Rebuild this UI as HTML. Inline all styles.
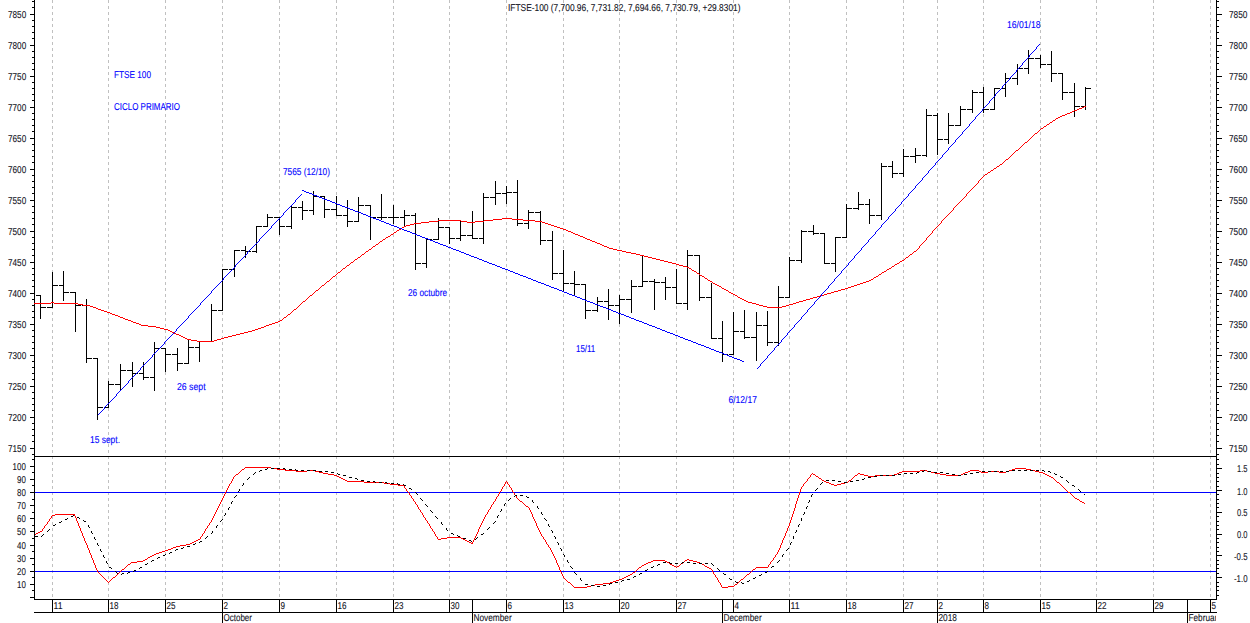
<!DOCTYPE html>
<html><head><meta charset="utf-8"><title>FTSE-100</title>
<style>
html,body{margin:0;padding:0;background:#fff;}
body{width:1250px;height:623px;overflow:hidden;}
svg{display:block;font-family:"Liberation Sans",sans-serif;text-rendering:geometricPrecision;}
</style></head><body>
<svg width="1250" height="623" viewBox="0 0 1250 623">
<rect x="0" y="0" width="1250" height="623" fill="#fff"/>
<g stroke="#c0c0c0" stroke-width="1" stroke-dasharray="3 3" shape-rendering="crispEdges">
<line x1="52.5" y1="0" x2="52.5" y2="599"/>
<line x1="108.5" y1="0" x2="108.5" y2="599"/>
<line x1="165.5" y1="0" x2="165.5" y2="599"/>
<line x1="222.5" y1="0" x2="222.5" y2="599"/>
<line x1="279.5" y1="0" x2="279.5" y2="599"/>
<line x1="336.5" y1="0" x2="336.5" y2="599"/>
<line x1="393.5" y1="0" x2="393.5" y2="599"/>
<line x1="449.5" y1="0" x2="449.5" y2="599"/>
<line x1="506.5" y1="0" x2="506.5" y2="599"/>
<line x1="563.5" y1="0" x2="563.5" y2="599"/>
<line x1="619.5" y1="0" x2="619.5" y2="599"/>
<line x1="676.5" y1="0" x2="676.5" y2="599"/>
<line x1="733.5" y1="0" x2="733.5" y2="599"/>
<line x1="789.5" y1="0" x2="789.5" y2="599"/>
<line x1="846.5" y1="0" x2="846.5" y2="599"/>
<line x1="903.5" y1="0" x2="903.5" y2="599"/>
<line x1="937.5" y1="0" x2="937.5" y2="599"/>
<line x1="983.5" y1="0" x2="983.5" y2="599"/>
<line x1="1040.5" y1="0" x2="1040.5" y2="599"/>
<line x1="1096.5" y1="0" x2="1096.5" y2="599"/>
<line x1="1153.5" y1="0" x2="1153.5" y2="599"/>
<line x1="1210.5" y1="0" x2="1210.5" y2="599"/>
</g>
<g shape-rendering="crispEdges">
<rect x="34" y="0" width="1" height="600" fill="#000"/>
<rect x="1216" y="0" width="1" height="600" fill="#000"/>
<rect x="34" y="456" width="1183" height="1" fill="#000"/>
<rect x="34" y="599" width="1183" height="1" fill="#000"/>
<rect x="34" y="612" width="1183" height="1" fill="#000"/>
<rect x="32" y="1" width="2" height="1" fill="#000"/>
<rect x="1217" y="1" width="2" height="1" fill="#000"/>
<rect x="32" y="7" width="2" height="1" fill="#000"/>
<rect x="1217" y="7" width="2" height="1" fill="#000"/>
<rect x="30" y="14" width="4" height="1" fill="#000"/>
<rect x="1217" y="14" width="5" height="1" fill="#000"/>
<rect x="32" y="20" width="2" height="1" fill="#000"/>
<rect x="1217" y="20" width="2" height="1" fill="#000"/>
<rect x="32" y="26" width="2" height="1" fill="#000"/>
<rect x="1217" y="26" width="2" height="1" fill="#000"/>
<rect x="32" y="32" width="2" height="1" fill="#000"/>
<rect x="1217" y="32" width="2" height="1" fill="#000"/>
<rect x="32" y="38" width="2" height="1" fill="#000"/>
<rect x="1217" y="38" width="2" height="1" fill="#000"/>
<rect x="30" y="45" width="4" height="1" fill="#000"/>
<rect x="1217" y="45" width="5" height="1" fill="#000"/>
<rect x="32" y="51" width="2" height="1" fill="#000"/>
<rect x="1217" y="51" width="2" height="1" fill="#000"/>
<rect x="32" y="57" width="2" height="1" fill="#000"/>
<rect x="1217" y="57" width="2" height="1" fill="#000"/>
<rect x="32" y="63" width="2" height="1" fill="#000"/>
<rect x="1217" y="63" width="2" height="1" fill="#000"/>
<rect x="32" y="69" width="2" height="1" fill="#000"/>
<rect x="1217" y="69" width="2" height="1" fill="#000"/>
<rect x="30" y="76" width="4" height="1" fill="#000"/>
<rect x="1217" y="76" width="5" height="1" fill="#000"/>
<rect x="32" y="82" width="2" height="1" fill="#000"/>
<rect x="1217" y="82" width="2" height="1" fill="#000"/>
<rect x="32" y="88" width="2" height="1" fill="#000"/>
<rect x="1217" y="88" width="2" height="1" fill="#000"/>
<rect x="32" y="94" width="2" height="1" fill="#000"/>
<rect x="1217" y="94" width="2" height="1" fill="#000"/>
<rect x="32" y="100" width="2" height="1" fill="#000"/>
<rect x="1217" y="100" width="2" height="1" fill="#000"/>
<rect x="30" y="107" width="4" height="1" fill="#000"/>
<rect x="1217" y="107" width="5" height="1" fill="#000"/>
<rect x="32" y="113" width="2" height="1" fill="#000"/>
<rect x="1217" y="113" width="2" height="1" fill="#000"/>
<rect x="32" y="119" width="2" height="1" fill="#000"/>
<rect x="1217" y="119" width="2" height="1" fill="#000"/>
<rect x="32" y="125" width="2" height="1" fill="#000"/>
<rect x="1217" y="125" width="2" height="1" fill="#000"/>
<rect x="32" y="131" width="2" height="1" fill="#000"/>
<rect x="1217" y="131" width="2" height="1" fill="#000"/>
<rect x="30" y="138" width="4" height="1" fill="#000"/>
<rect x="1217" y="138" width="5" height="1" fill="#000"/>
<rect x="32" y="144" width="2" height="1" fill="#000"/>
<rect x="1217" y="144" width="2" height="1" fill="#000"/>
<rect x="32" y="150" width="2" height="1" fill="#000"/>
<rect x="1217" y="150" width="2" height="1" fill="#000"/>
<rect x="32" y="156" width="2" height="1" fill="#000"/>
<rect x="1217" y="156" width="2" height="1" fill="#000"/>
<rect x="32" y="162" width="2" height="1" fill="#000"/>
<rect x="1217" y="162" width="2" height="1" fill="#000"/>
<rect x="30" y="169" width="4" height="1" fill="#000"/>
<rect x="1217" y="169" width="5" height="1" fill="#000"/>
<rect x="32" y="175" width="2" height="1" fill="#000"/>
<rect x="1217" y="175" width="2" height="1" fill="#000"/>
<rect x="32" y="181" width="2" height="1" fill="#000"/>
<rect x="1217" y="181" width="2" height="1" fill="#000"/>
<rect x="32" y="187" width="2" height="1" fill="#000"/>
<rect x="1217" y="187" width="2" height="1" fill="#000"/>
<rect x="32" y="193" width="2" height="1" fill="#000"/>
<rect x="1217" y="193" width="2" height="1" fill="#000"/>
<rect x="30" y="200" width="4" height="1" fill="#000"/>
<rect x="1217" y="200" width="5" height="1" fill="#000"/>
<rect x="32" y="206" width="2" height="1" fill="#000"/>
<rect x="1217" y="206" width="2" height="1" fill="#000"/>
<rect x="32" y="212" width="2" height="1" fill="#000"/>
<rect x="1217" y="212" width="2" height="1" fill="#000"/>
<rect x="32" y="218" width="2" height="1" fill="#000"/>
<rect x="1217" y="218" width="2" height="1" fill="#000"/>
<rect x="32" y="224" width="2" height="1" fill="#000"/>
<rect x="1217" y="224" width="2" height="1" fill="#000"/>
<rect x="30" y="231" width="4" height="1" fill="#000"/>
<rect x="1217" y="231" width="5" height="1" fill="#000"/>
<rect x="32" y="237" width="2" height="1" fill="#000"/>
<rect x="1217" y="237" width="2" height="1" fill="#000"/>
<rect x="32" y="243" width="2" height="1" fill="#000"/>
<rect x="1217" y="243" width="2" height="1" fill="#000"/>
<rect x="32" y="249" width="2" height="1" fill="#000"/>
<rect x="1217" y="249" width="2" height="1" fill="#000"/>
<rect x="32" y="255" width="2" height="1" fill="#000"/>
<rect x="1217" y="255" width="2" height="1" fill="#000"/>
<rect x="30" y="262" width="4" height="1" fill="#000"/>
<rect x="1217" y="262" width="5" height="1" fill="#000"/>
<rect x="32" y="268" width="2" height="1" fill="#000"/>
<rect x="1217" y="268" width="2" height="1" fill="#000"/>
<rect x="32" y="274" width="2" height="1" fill="#000"/>
<rect x="1217" y="274" width="2" height="1" fill="#000"/>
<rect x="32" y="280" width="2" height="1" fill="#000"/>
<rect x="1217" y="280" width="2" height="1" fill="#000"/>
<rect x="32" y="286" width="2" height="1" fill="#000"/>
<rect x="1217" y="286" width="2" height="1" fill="#000"/>
<rect x="30" y="293" width="4" height="1" fill="#000"/>
<rect x="1217" y="293" width="5" height="1" fill="#000"/>
<rect x="32" y="299" width="2" height="1" fill="#000"/>
<rect x="1217" y="299" width="2" height="1" fill="#000"/>
<rect x="32" y="305" width="2" height="1" fill="#000"/>
<rect x="1217" y="305" width="2" height="1" fill="#000"/>
<rect x="32" y="311" width="2" height="1" fill="#000"/>
<rect x="1217" y="311" width="2" height="1" fill="#000"/>
<rect x="32" y="317" width="2" height="1" fill="#000"/>
<rect x="1217" y="317" width="2" height="1" fill="#000"/>
<rect x="30" y="324" width="4" height="1" fill="#000"/>
<rect x="1217" y="324" width="5" height="1" fill="#000"/>
<rect x="32" y="330" width="2" height="1" fill="#000"/>
<rect x="1217" y="330" width="2" height="1" fill="#000"/>
<rect x="32" y="336" width="2" height="1" fill="#000"/>
<rect x="1217" y="336" width="2" height="1" fill="#000"/>
<rect x="32" y="342" width="2" height="1" fill="#000"/>
<rect x="1217" y="342" width="2" height="1" fill="#000"/>
<rect x="32" y="348" width="2" height="1" fill="#000"/>
<rect x="1217" y="348" width="2" height="1" fill="#000"/>
<rect x="30" y="355" width="4" height="1" fill="#000"/>
<rect x="1217" y="355" width="5" height="1" fill="#000"/>
<rect x="32" y="361" width="2" height="1" fill="#000"/>
<rect x="1217" y="361" width="2" height="1" fill="#000"/>
<rect x="32" y="367" width="2" height="1" fill="#000"/>
<rect x="1217" y="367" width="2" height="1" fill="#000"/>
<rect x="32" y="373" width="2" height="1" fill="#000"/>
<rect x="1217" y="373" width="2" height="1" fill="#000"/>
<rect x="32" y="379" width="2" height="1" fill="#000"/>
<rect x="1217" y="379" width="2" height="1" fill="#000"/>
<rect x="30" y="386" width="4" height="1" fill="#000"/>
<rect x="1217" y="386" width="5" height="1" fill="#000"/>
<rect x="32" y="392" width="2" height="1" fill="#000"/>
<rect x="1217" y="392" width="2" height="1" fill="#000"/>
<rect x="32" y="398" width="2" height="1" fill="#000"/>
<rect x="1217" y="398" width="2" height="1" fill="#000"/>
<rect x="32" y="404" width="2" height="1" fill="#000"/>
<rect x="1217" y="404" width="2" height="1" fill="#000"/>
<rect x="32" y="410" width="2" height="1" fill="#000"/>
<rect x="1217" y="410" width="2" height="1" fill="#000"/>
<rect x="30" y="417" width="4" height="1" fill="#000"/>
<rect x="1217" y="417" width="5" height="1" fill="#000"/>
<rect x="32" y="423" width="2" height="1" fill="#000"/>
<rect x="1217" y="423" width="2" height="1" fill="#000"/>
<rect x="32" y="429" width="2" height="1" fill="#000"/>
<rect x="1217" y="429" width="2" height="1" fill="#000"/>
<rect x="32" y="435" width="2" height="1" fill="#000"/>
<rect x="1217" y="435" width="2" height="1" fill="#000"/>
<rect x="32" y="441" width="2" height="1" fill="#000"/>
<rect x="1217" y="441" width="2" height="1" fill="#000"/>
<rect x="30" y="448" width="4" height="1" fill="#000"/>
<rect x="1217" y="448" width="5" height="1" fill="#000"/>
<rect x="32" y="454" width="2" height="1" fill="#000"/>
<rect x="1217" y="454" width="2" height="1" fill="#000"/>
<rect x="32" y="459" width="2" height="1" fill="#000"/>
<rect x="30" y="466" width="4" height="1" fill="#000"/>
<rect x="32" y="472" width="2" height="1" fill="#000"/>
<rect x="30" y="479" width="4" height="1" fill="#000"/>
<rect x="32" y="485" width="2" height="1" fill="#000"/>
<rect x="30" y="492" width="4" height="1" fill="#000"/>
<rect x="32" y="499" width="2" height="1" fill="#000"/>
<rect x="30" y="505" width="4" height="1" fill="#000"/>
<rect x="32" y="512" width="2" height="1" fill="#000"/>
<rect x="30" y="518" width="4" height="1" fill="#000"/>
<rect x="32" y="525" width="2" height="1" fill="#000"/>
<rect x="30" y="531" width="4" height="1" fill="#000"/>
<rect x="32" y="538" width="2" height="1" fill="#000"/>
<rect x="30" y="545" width="4" height="1" fill="#000"/>
<rect x="32" y="551" width="2" height="1" fill="#000"/>
<rect x="30" y="558" width="4" height="1" fill="#000"/>
<rect x="32" y="564" width="2" height="1" fill="#000"/>
<rect x="30" y="571" width="4" height="1" fill="#000"/>
<rect x="32" y="577" width="2" height="1" fill="#000"/>
<rect x="30" y="584" width="4" height="1" fill="#000"/>
<rect x="32" y="590" width="2" height="1" fill="#000"/>
<rect x="30" y="597" width="4" height="1" fill="#000"/>
<rect x="1217" y="459" width="2" height="1" fill="#000"/>
<rect x="1217" y="464" width="2" height="1" fill="#000"/>
<rect x="1217" y="468" width="5" height="1" fill="#000"/>
<rect x="1217" y="473" width="2" height="1" fill="#000"/>
<rect x="1217" y="477" width="2" height="1" fill="#000"/>
<rect x="1217" y="481" width="2" height="1" fill="#000"/>
<rect x="1217" y="486" width="2" height="1" fill="#000"/>
<rect x="1217" y="490" width="5" height="1" fill="#000"/>
<rect x="1217" y="494" width="2" height="1" fill="#000"/>
<rect x="1217" y="499" width="2" height="1" fill="#000"/>
<rect x="1217" y="503" width="2" height="1" fill="#000"/>
<rect x="1217" y="507" width="2" height="1" fill="#000"/>
<rect x="1217" y="512" width="5" height="1" fill="#000"/>
<rect x="1217" y="516" width="2" height="1" fill="#000"/>
<rect x="1217" y="521" width="2" height="1" fill="#000"/>
<rect x="1217" y="525" width="2" height="1" fill="#000"/>
<rect x="1217" y="529" width="2" height="1" fill="#000"/>
<rect x="1217" y="534" width="5" height="1" fill="#000"/>
<rect x="1217" y="538" width="2" height="1" fill="#000"/>
<rect x="1217" y="542" width="2" height="1" fill="#000"/>
<rect x="1217" y="547" width="2" height="1" fill="#000"/>
<rect x="1217" y="551" width="2" height="1" fill="#000"/>
<rect x="1217" y="555" width="5" height="1" fill="#000"/>
<rect x="1217" y="560" width="2" height="1" fill="#000"/>
<rect x="1217" y="564" width="2" height="1" fill="#000"/>
<rect x="1217" y="568" width="2" height="1" fill="#000"/>
<rect x="1217" y="573" width="2" height="1" fill="#000"/>
<rect x="1217" y="577" width="5" height="1" fill="#000"/>
<rect x="1217" y="582" width="2" height="1" fill="#000"/>
<rect x="1217" y="586" width="2" height="1" fill="#000"/>
<rect x="1217" y="590" width="2" height="1" fill="#000"/>
<rect x="1217" y="595" width="2" height="1" fill="#000"/>
<rect x="52" y="599" width="1" height="13" fill="#000"/>
<rect x="108" y="599" width="1" height="13" fill="#000"/>
<rect x="165" y="599" width="1" height="13" fill="#000"/>
<rect x="222" y="599" width="1" height="13" fill="#000"/>
<rect x="279" y="599" width="1" height="13" fill="#000"/>
<rect x="336" y="599" width="1" height="13" fill="#000"/>
<rect x="393" y="599" width="1" height="13" fill="#000"/>
<rect x="449" y="599" width="1" height="13" fill="#000"/>
<rect x="506" y="599" width="1" height="13" fill="#000"/>
<rect x="563" y="599" width="1" height="13" fill="#000"/>
<rect x="619" y="599" width="1" height="13" fill="#000"/>
<rect x="676" y="599" width="1" height="13" fill="#000"/>
<rect x="733" y="599" width="1" height="13" fill="#000"/>
<rect x="789" y="599" width="1" height="13" fill="#000"/>
<rect x="846" y="599" width="1" height="13" fill="#000"/>
<rect x="903" y="599" width="1" height="13" fill="#000"/>
<rect x="937" y="599" width="1" height="13" fill="#000"/>
<rect x="983" y="599" width="1" height="13" fill="#000"/>
<rect x="1040" y="599" width="1" height="13" fill="#000"/>
<rect x="1096" y="599" width="1" height="13" fill="#000"/>
<rect x="1153" y="599" width="1" height="13" fill="#000"/>
<rect x="1210" y="599" width="1" height="13" fill="#000"/>
<rect x="222" y="599" width="1" height="24" fill="#000"/>
<rect x="472" y="599" width="1" height="24" fill="#000"/>
<rect x="722" y="599" width="1" height="24" fill="#000"/>
<rect x="937" y="599" width="1" height="24" fill="#000"/>
<rect x="1187" y="599" width="1" height="24" fill="#000"/>
</g>
<g shape-rendering="crispEdges">
<rect x="35" y="492" width="1181" height="1" fill="#0000ff"/>
<rect x="35" y="571" width="1181" height="1" fill="#0000ff"/>
</g>
<g shape-rendering="crispEdges" fill="#000">
<rect x="40" y="295" width="1" height="24"/>
<rect x="36" y="295" width="4" height="1"/>
<rect x="41" y="307" width="5" height="1"/>
<rect x="52" y="272" width="1" height="36"/>
<rect x="47" y="307" width="5" height="1"/>
<rect x="53" y="285" width="5" height="1"/>
<rect x="63" y="271" width="1" height="30"/>
<rect x="59" y="285" width="4" height="1"/>
<rect x="64" y="292" width="5" height="1"/>
<rect x="75" y="292" width="1" height="40"/>
<rect x="70" y="292" width="5" height="1"/>
<rect x="76" y="305" width="5" height="1"/>
<rect x="86" y="299" width="1" height="64"/>
<rect x="82" y="305" width="4" height="1"/>
<rect x="87" y="358" width="5" height="1"/>
<rect x="97" y="358" width="1" height="62"/>
<rect x="93" y="358" width="4" height="1"/>
<rect x="98" y="407" width="5" height="1"/>
<rect x="108" y="381" width="1" height="27"/>
<rect x="104" y="407" width="4" height="1"/>
<rect x="109" y="384" width="5" height="1"/>
<rect x="120" y="364" width="1" height="27"/>
<rect x="115" y="384" width="5" height="1"/>
<rect x="121" y="370" width="5" height="1"/>
<rect x="132" y="362" width="1" height="25"/>
<rect x="127" y="370" width="5" height="1"/>
<rect x="133" y="373" width="5" height="1"/>
<rect x="143" y="362" width="1" height="18"/>
<rect x="139" y="373" width="4" height="1"/>
<rect x="144" y="377" width="5" height="1"/>
<rect x="154" y="342" width="1" height="49"/>
<rect x="150" y="377" width="4" height="1"/>
<rect x="155" y="348" width="5" height="1"/>
<rect x="165" y="348" width="1" height="24"/>
<rect x="161" y="348" width="4" height="1"/>
<rect x="166" y="354" width="5" height="1"/>
<rect x="177" y="348" width="1" height="23"/>
<rect x="172" y="354" width="5" height="1"/>
<rect x="178" y="363" width="5" height="1"/>
<rect x="188" y="339" width="1" height="25"/>
<rect x="184" y="363" width="4" height="1"/>
<rect x="189" y="347" width="5" height="1"/>
<rect x="199" y="341" width="1" height="21"/>
<rect x="195" y="347" width="4" height="1"/>
<rect x="200" y="341" width="5" height="1"/>
<rect x="211" y="304" width="1" height="38"/>
<rect x="206" y="341" width="5" height="1"/>
<rect x="212" y="310" width="5" height="1"/>
<rect x="222" y="269" width="1" height="42"/>
<rect x="218" y="310" width="4" height="1"/>
<rect x="223" y="269" width="5" height="1"/>
<rect x="234" y="250" width="1" height="27"/>
<rect x="229" y="269" width="5" height="1"/>
<rect x="235" y="250" width="5" height="1"/>
<rect x="245" y="246" width="1" height="12"/>
<rect x="241" y="250" width="4" height="1"/>
<rect x="246" y="251" width="5" height="1"/>
<rect x="256" y="226" width="1" height="27"/>
<rect x="252" y="251" width="4" height="1"/>
<rect x="257" y="226" width="5" height="1"/>
<rect x="267" y="214" width="1" height="13"/>
<rect x="263" y="226" width="4" height="1"/>
<rect x="268" y="217" width="5" height="1"/>
<rect x="279" y="217" width="1" height="18"/>
<rect x="274" y="217" width="5" height="1"/>
<rect x="280" y="226" width="5" height="1"/>
<rect x="291" y="205" width="1" height="24"/>
<rect x="286" y="226" width="5" height="1"/>
<rect x="292" y="207" width="5" height="1"/>
<rect x="302" y="201" width="1" height="19"/>
<rect x="298" y="207" width="4" height="1"/>
<rect x="303" y="210" width="5" height="1"/>
<rect x="313" y="191" width="1" height="24"/>
<rect x="309" y="210" width="4" height="1"/>
<rect x="314" y="196" width="5" height="1"/>
<rect x="324" y="196" width="1" height="22"/>
<rect x="320" y="196" width="4" height="1"/>
<rect x="325" y="209" width="5" height="1"/>
<rect x="336" y="196" width="1" height="20"/>
<rect x="331" y="209" width="5" height="1"/>
<rect x="337" y="215" width="5" height="1"/>
<rect x="347" y="200" width="1" height="27"/>
<rect x="343" y="215" width="4" height="1"/>
<rect x="348" y="221" width="5" height="1"/>
<rect x="358" y="197" width="1" height="25"/>
<rect x="354" y="221" width="4" height="1"/>
<rect x="359" y="205" width="5" height="1"/>
<rect x="370" y="205" width="1" height="35"/>
<rect x="365" y="205" width="5" height="1"/>
<rect x="371" y="217" width="5" height="1"/>
<rect x="381" y="194" width="1" height="26"/>
<rect x="377" y="217" width="4" height="1"/>
<rect x="382" y="217" width="5" height="1"/>
<rect x="393" y="205" width="1" height="19"/>
<rect x="388" y="217" width="5" height="1"/>
<rect x="394" y="217" width="5" height="1"/>
<rect x="404" y="210" width="1" height="16"/>
<rect x="400" y="217" width="4" height="1"/>
<rect x="405" y="215" width="5" height="1"/>
<rect x="415" y="213" width="1" height="57"/>
<rect x="411" y="215" width="4" height="1"/>
<rect x="416" y="263" width="5" height="1"/>
<rect x="426" y="239" width="1" height="29"/>
<rect x="422" y="263" width="4" height="1"/>
<rect x="427" y="239" width="5" height="1"/>
<rect x="438" y="218" width="1" height="22"/>
<rect x="433" y="239" width="5" height="1"/>
<rect x="439" y="227" width="5" height="1"/>
<rect x="449" y="227" width="1" height="17"/>
<rect x="445" y="227" width="4" height="1"/>
<rect x="450" y="238" width="5" height="1"/>
<rect x="460" y="221" width="1" height="20"/>
<rect x="456" y="238" width="4" height="1"/>
<rect x="461" y="235" width="5" height="1"/>
<rect x="472" y="211" width="1" height="28"/>
<rect x="467" y="235" width="5" height="1"/>
<rect x="473" y="238" width="5" height="1"/>
<rect x="483" y="193" width="1" height="51"/>
<rect x="479" y="238" width="4" height="1"/>
<rect x="484" y="197" width="5" height="1"/>
<rect x="495" y="181" width="1" height="24"/>
<rect x="490" y="197" width="5" height="1"/>
<rect x="496" y="193" width="5" height="1"/>
<rect x="506" y="186" width="1" height="18"/>
<rect x="502" y="193" width="4" height="1"/>
<rect x="507" y="192" width="5" height="1"/>
<rect x="517" y="180" width="1" height="46"/>
<rect x="513" y="192" width="4" height="1"/>
<rect x="518" y="223" width="5" height="1"/>
<rect x="528" y="210" width="1" height="19"/>
<rect x="524" y="223" width="4" height="1"/>
<rect x="529" y="212" width="5" height="1"/>
<rect x="540" y="211" width="1" height="34"/>
<rect x="535" y="212" width="5" height="1"/>
<rect x="541" y="240" width="5" height="1"/>
<rect x="552" y="231" width="1" height="49"/>
<rect x="547" y="240" width="5" height="1"/>
<rect x="553" y="273" width="5" height="1"/>
<rect x="563" y="250" width="1" height="42"/>
<rect x="559" y="273" width="4" height="1"/>
<rect x="564" y="283" width="5" height="1"/>
<rect x="574" y="271" width="1" height="24"/>
<rect x="570" y="283" width="4" height="1"/>
<rect x="575" y="284" width="5" height="1"/>
<rect x="585" y="284" width="1" height="35"/>
<rect x="581" y="284" width="4" height="1"/>
<rect x="586" y="310" width="5" height="1"/>
<rect x="597" y="297" width="1" height="15"/>
<rect x="592" y="310" width="5" height="1"/>
<rect x="598" y="301" width="5" height="1"/>
<rect x="608" y="289" width="1" height="31"/>
<rect x="604" y="301" width="4" height="1"/>
<rect x="609" y="305" width="5" height="1"/>
<rect x="619" y="295" width="1" height="29"/>
<rect x="615" y="305" width="4" height="1"/>
<rect x="620" y="299" width="5" height="1"/>
<rect x="631" y="280" width="1" height="33"/>
<rect x="626" y="299" width="5" height="1"/>
<rect x="632" y="286" width="5" height="1"/>
<rect x="642" y="255" width="1" height="32"/>
<rect x="638" y="286" width="4" height="1"/>
<rect x="643" y="281" width="5" height="1"/>
<rect x="654" y="279" width="1" height="31"/>
<rect x="649" y="281" width="5" height="1"/>
<rect x="655" y="282" width="5" height="1"/>
<rect x="665" y="277" width="1" height="23"/>
<rect x="661" y="282" width="4" height="1"/>
<rect x="666" y="287" width="5" height="1"/>
<rect x="676" y="269" width="1" height="35"/>
<rect x="672" y="287" width="4" height="1"/>
<rect x="677" y="303" width="5" height="1"/>
<rect x="687" y="250" width="1" height="60"/>
<rect x="683" y="303" width="4" height="1"/>
<rect x="688" y="255" width="5" height="1"/>
<rect x="699" y="255" width="1" height="46"/>
<rect x="694" y="255" width="5" height="1"/>
<rect x="700" y="297" width="5" height="1"/>
<rect x="711" y="283" width="1" height="56"/>
<rect x="706" y="297" width="5" height="1"/>
<rect x="712" y="338" width="5" height="1"/>
<rect x="722" y="321" width="1" height="41"/>
<rect x="718" y="338" width="4" height="1"/>
<rect x="723" y="354" width="5" height="1"/>
<rect x="733" y="312" width="1" height="43"/>
<rect x="729" y="354" width="4" height="1"/>
<rect x="734" y="331" width="5" height="1"/>
<rect x="744" y="310" width="1" height="29"/>
<rect x="740" y="331" width="4" height="1"/>
<rect x="745" y="337" width="5" height="1"/>
<rect x="756" y="312" width="1" height="49"/>
<rect x="751" y="337" width="5" height="1"/>
<rect x="757" y="325" width="5" height="1"/>
<rect x="767" y="311" width="1" height="35"/>
<rect x="763" y="325" width="4" height="1"/>
<rect x="768" y="342" width="5" height="1"/>
<rect x="778" y="286" width="1" height="60"/>
<rect x="774" y="342" width="4" height="1"/>
<rect x="779" y="297" width="5" height="1"/>
<rect x="789" y="257" width="1" height="41"/>
<rect x="785" y="297" width="4" height="1"/>
<rect x="790" y="260" width="5" height="1"/>
<rect x="801" y="230" width="1" height="33"/>
<rect x="796" y="260" width="5" height="1"/>
<rect x="802" y="231" width="5" height="1"/>
<rect x="813" y="225" width="1" height="10"/>
<rect x="808" y="231" width="5" height="1"/>
<rect x="814" y="233" width="5" height="1"/>
<rect x="824" y="233" width="1" height="31"/>
<rect x="820" y="233" width="4" height="1"/>
<rect x="825" y="263" width="5" height="1"/>
<rect x="835" y="237" width="1" height="35"/>
<rect x="831" y="263" width="4" height="1"/>
<rect x="836" y="237" width="5" height="1"/>
<rect x="846" y="204" width="1" height="34"/>
<rect x="842" y="237" width="4" height="1"/>
<rect x="847" y="208" width="5" height="1"/>
<rect x="858" y="192" width="1" height="18"/>
<rect x="853" y="208" width="5" height="1"/>
<rect x="859" y="204" width="5" height="1"/>
<rect x="869" y="199" width="1" height="25"/>
<rect x="865" y="204" width="4" height="1"/>
<rect x="870" y="215" width="5" height="1"/>
<rect x="881" y="163" width="1" height="57"/>
<rect x="876" y="215" width="5" height="1"/>
<rect x="882" y="166" width="5" height="1"/>
<rect x="892" y="161" width="1" height="17"/>
<rect x="888" y="166" width="4" height="1"/>
<rect x="893" y="173" width="5" height="1"/>
<rect x="903" y="149" width="1" height="28"/>
<rect x="899" y="173" width="4" height="1"/>
<rect x="904" y="156" width="5" height="1"/>
<rect x="915" y="148" width="1" height="15"/>
<rect x="910" y="156" width="5" height="1"/>
<rect x="916" y="155" width="5" height="1"/>
<rect x="926" y="109" width="1" height="48"/>
<rect x="922" y="155" width="4" height="1"/>
<rect x="927" y="115" width="5" height="1"/>
<rect x="937" y="113" width="1" height="42"/>
<rect x="933" y="115" width="4" height="1"/>
<rect x="938" y="139" width="5" height="1"/>
<rect x="948" y="113" width="1" height="31"/>
<rect x="944" y="139" width="4" height="1"/>
<rect x="949" y="125" width="5" height="1"/>
<rect x="960" y="106" width="1" height="20"/>
<rect x="955" y="125" width="5" height="1"/>
<rect x="961" y="109" width="5" height="1"/>
<rect x="972" y="90" width="1" height="23"/>
<rect x="967" y="109" width="5" height="1"/>
<rect x="973" y="92" width="5" height="1"/>
<rect x="983" y="87" width="1" height="26"/>
<rect x="979" y="92" width="4" height="1"/>
<rect x="984" y="109" width="5" height="1"/>
<rect x="994" y="88" width="1" height="22"/>
<rect x="990" y="109" width="4" height="1"/>
<rect x="995" y="88" width="5" height="1"/>
<rect x="1005" y="73" width="1" height="24"/>
<rect x="1001" y="88" width="4" height="1"/>
<rect x="1006" y="78" width="5" height="1"/>
<rect x="1017" y="64" width="1" height="21"/>
<rect x="1012" y="78" width="5" height="1"/>
<rect x="1018" y="68" width="5" height="1"/>
<rect x="1028" y="50" width="1" height="24"/>
<rect x="1024" y="68" width="4" height="1"/>
<rect x="1029" y="58" width="5" height="1"/>
<rect x="1040" y="55" width="1" height="13"/>
<rect x="1035" y="58" width="5" height="1"/>
<rect x="1041" y="64" width="5" height="1"/>
<rect x="1051" y="51" width="1" height="31"/>
<rect x="1047" y="64" width="4" height="1"/>
<rect x="1052" y="73" width="5" height="1"/>
<rect x="1062" y="73" width="1" height="27"/>
<rect x="1058" y="73" width="4" height="1"/>
<rect x="1063" y="92" width="5" height="1"/>
<rect x="1074" y="83" width="1" height="34"/>
<rect x="1069" y="92" width="5" height="1"/>
<rect x="1075" y="106" width="5" height="1"/>
<rect x="1085" y="87" width="1" height="23"/>
<rect x="1081" y="106" width="4" height="1"/>
<rect x="1086" y="88" width="5" height="1"/>
</g>
<path d="M1084 106.5h2M1082 107.5h2M1079 108.5h3M1077 109.5h2M1074 110.5h3M1072 111.5h2M1070 112.5h2M1067 113.5h3M1065 114.5h2M1062 115.5h3M1060 116.5h2M1058 117.5h2M1056 118.5h2M1055 119.5h1M1053 120.5h2M1052 121.5h1M1050 122.5h2M1049 123.5h1M1047 124.5h2M1046 125.5h1M1044 126.5h2M1043 127.5h1M1041 128.5h2M1040 129.5h1M1039 130.5h1M1038 131.5h1M1037 132.5h1M1035 133.5h2M1034 134.5h1M1033 135.5h1M1032 136.5h1M1031 137.5h1M1030 138.5h1M1029 139.5h1M1028 140.5h1M1027 141.5h1M1025 142.5h2M1024 143.5h1M1023 144.5h1M1022 145.5h1M1021 146.5h1M1020 147.5h1M1019 148.5h1M1018 149.5h1M1016 150.5h2M1015 151.5h1M1014 152.5h1M1013 153.5h1M1012 154.5h1M1011 155.5h1M1010 156.5h1M1009 157.5h1M1008 158.5h1M1006 159.5h2M1005 160.5h1M1004 161.5h1M1003 162.5h1M1002 163.5h1M1000 164.5h2M999 165.5h1M997 166.5h2M996 167.5h1M994 168.5h2M993 169.5h1M991 170.5h2M990 171.5h1M988 172.5h2M987 173.5h1M985 174.5h2M984 175.5h1M983 176.5h1M982 177.5h1M981 178.5h1M980 179.5h1M979 180.5h1M978 181.5h1M978 182.5h1M977 183.5h1M976 184.5h1M975 185.5h1M974 186.5h1M973 187.5h1M972 188.5h1M971 189.5h1M970 190.5h1M969 191.5h1M968 192.5h1M967 193.5h1M966 194.5h1M966 195.5h1M965 196.5h1M964 197.5h1M963 198.5h1M962 199.5h1M961 200.5h1M960 201.5h1M959 202.5h1M958 203.5h1M957 204.5h1M956 205.5h1M955 206.5h1M954 207.5h1M953 208.5h1M953 209.5h1M952 210.5h1M951 211.5h1M950 212.5h1M949 213.5h1M948 214.5h1M947 215.5h1M946 216.5h1M945 217.5h1M502 218.5h10M944 218.5h1M493 219.5h9M512 219.5h11M943 219.5h1M438 220.5h23M484 220.5h9M523 220.5h12M942 220.5h1M429 221.5h9M461 221.5h6M475 221.5h9M535 221.5h7M941 221.5h1M421 222.5h8M467 222.5h8M542 222.5h3M941 222.5h1M414 223.5h7M545 223.5h3M940 223.5h1M410 224.5h4M548 224.5h3M939 224.5h1M406 225.5h4M551 225.5h3M938 225.5h1M404 226.5h2M554 226.5h3M937 226.5h1M402 227.5h2M557 227.5h3M936 227.5h1M401 228.5h1M560 228.5h3M935 228.5h1M399 229.5h2M563 229.5h3M934 229.5h1M397 230.5h2M566 230.5h2M933 230.5h1M396 231.5h1M568 231.5h3M932 231.5h1M394 232.5h2M571 232.5h2M932 232.5h1M393 233.5h1M573 233.5h2M931 233.5h1M391 234.5h2M575 234.5h3M930 234.5h1M390 235.5h1M578 235.5h2M929 235.5h1M388 236.5h2M580 236.5h3M928 236.5h1M386 237.5h2M583 237.5h2M927 237.5h1M385 238.5h1M585 238.5h2M926 238.5h1M383 239.5h2M587 239.5h3M926 239.5h1M382 240.5h1M590 240.5h2M925 240.5h1M380 241.5h2M592 241.5h3M924 241.5h1M379 242.5h1M595 242.5h2M923 242.5h1M378 243.5h1M597 243.5h3M922 243.5h1M376 244.5h2M600 244.5h2M921 244.5h1M375 245.5h1M602 245.5h2M920 245.5h1M373 246.5h2M604 246.5h3M919 246.5h1M372 247.5h1M607 247.5h2M919 247.5h1M371 248.5h1M609 248.5h4M918 248.5h1M369 249.5h2M613 249.5h4M917 249.5h1M368 250.5h1M617 250.5h5M916 250.5h1M366 251.5h2M622 251.5h4M914 251.5h2M365 252.5h1M626 252.5h5M913 252.5h1M364 253.5h1M631 253.5h5M912 253.5h1M362 254.5h2M636 254.5h4M910 254.5h2M361 255.5h1M640 255.5h4M909 255.5h1M360 256.5h1M644 256.5h4M908 256.5h1M358 257.5h2M648 257.5h4M906 257.5h2M357 258.5h1M652 258.5h4M905 258.5h1M355 259.5h2M656 259.5h4M904 259.5h1M354 260.5h1M660 260.5h4M902 260.5h2M353 261.5h1M664 261.5h4M900 261.5h2M351 262.5h2M668 262.5h4M899 262.5h1M350 263.5h1M672 263.5h4M897 263.5h2M349 264.5h1M676 264.5h3M895 264.5h2M347 265.5h2M679 265.5h4M894 265.5h1M346 266.5h1M683 266.5h4M892 266.5h2M345 267.5h1M687 267.5h2M891 267.5h1M343 268.5h2M689 268.5h2M889 268.5h2M342 269.5h1M691 269.5h1M887 269.5h2M341 270.5h1M692 270.5h2M886 270.5h1M340 271.5h1M694 271.5h2M884 271.5h2M338 272.5h2M696 272.5h1M882 272.5h2M337 273.5h1M697 273.5h2M881 273.5h1M336 274.5h1M699 274.5h1M879 274.5h2M335 275.5h1M700 275.5h2M878 275.5h1M333 276.5h2M702 276.5h2M876 276.5h2M332 277.5h1M704 277.5h1M874 277.5h2M331 278.5h1M705 278.5h2M873 278.5h1M330 279.5h1M707 279.5h1M871 279.5h2M329 280.5h1M708 280.5h2M869 280.5h2M327 281.5h2M710 281.5h2M866 281.5h3M326 282.5h1M712 282.5h1M863 282.5h3M325 283.5h1M713 283.5h2M860 283.5h3M324 284.5h1M715 284.5h2M857 284.5h3M322 285.5h2M717 285.5h2M854 285.5h3M321 286.5h1M719 286.5h2M851 286.5h3M320 287.5h1M721 287.5h1M848 287.5h3M319 288.5h1M722 288.5h2M845 288.5h3M318 289.5h1M724 289.5h2M841 289.5h4M316 290.5h2M726 290.5h2M838 290.5h3M315 291.5h1M728 291.5h1M834 291.5h4M314 292.5h1M729 292.5h2M831 292.5h3M313 293.5h1M731 293.5h2M827 293.5h4M312 294.5h1M733 294.5h2M824 294.5h3M310 295.5h2M735 295.5h2M820 295.5h4M309 296.5h1M737 296.5h1M817 296.5h3M308 297.5h1M738 297.5h2M813 297.5h4M307 298.5h1M740 298.5h2M810 298.5h3M306 299.5h1M742 299.5h2M806 299.5h4M305 300.5h1M744 300.5h2M803 300.5h3M303 301.5h2M746 301.5h2M799 301.5h4M51 302.5h3M302 302.5h1M748 302.5h4M796 302.5h3M34 303.5h17M54 303.5h24M301 303.5h1M752 303.5h4M793 303.5h3M78 304.5h5M300 304.5h1M756 304.5h3M789 304.5h4M83 305.5h7M299 305.5h1M759 305.5h4M786 305.5h3M90 306.5h3M298 306.5h1M763 306.5h4M782 306.5h4M93 307.5h3M297 307.5h1M767 307.5h15M96 308.5h2M296 308.5h1M98 309.5h3M294 309.5h2M101 310.5h3M293 310.5h1M104 311.5h3M292 311.5h1M107 312.5h3M291 312.5h1M110 313.5h2M290 313.5h1M112 314.5h3M288 314.5h2M115 315.5h3M287 315.5h1M118 316.5h2M286 316.5h1M120 317.5h3M284 317.5h2M123 318.5h2M283 318.5h1M125 319.5h3M282 319.5h1M128 320.5h3M280 320.5h2M131 321.5h2M278 321.5h2M133 322.5h3M275 322.5h3M136 323.5h3M272 323.5h3M139 324.5h2M269 324.5h3M141 325.5h7M266 325.5h3M148 326.5h8M264 326.5h2M156 327.5h4M261 327.5h3M160 328.5h4M258 328.5h3M164 329.5h4M255 329.5h3M168 330.5h2M252 330.5h3M170 331.5h2M248 331.5h4M172 332.5h2M244 332.5h4M174 333.5h2M240 333.5h4M176 334.5h3M236 334.5h4M179 335.5h2M232 335.5h4M181 336.5h2M228 336.5h4M183 337.5h2M224 337.5h4M185 338.5h2M221 338.5h3M187 339.5h4M217 339.5h4M191 340.5h6M214 340.5h3M197 341.5h17" fill="none" stroke="#ff0000" stroke-width="1" shape-rendering="crispEdges"/>
<path d="M245 467.5h26M244 468.5h1M271 468.5h6M1015 468.5h11M242 469.5h2M277 469.5h8M1012 469.5h3M1026 469.5h5M241 470.5h1M285 470.5h11M307 470.5h8M920 470.5h7M970 470.5h9M1009 470.5h3M1031 470.5h4M240 471.5h1M296 471.5h11M315 471.5h4M902 471.5h18M927 471.5h4M968 471.5h2M979 471.5h2M988 471.5h11M1006 471.5h3M1035 471.5h4M239 472.5h1M319 472.5h4M899 472.5h3M931 472.5h4M965 472.5h3M981 472.5h7M999 472.5h7M1039 472.5h4M238 473.5h1M323 473.5h5M812 473.5h1M858 473.5h2M897 473.5h2M935 473.5h5M963 473.5h2M1043 473.5h2M236 474.5h2M328 474.5h6M811 474.5h1M813 474.5h2M857 474.5h1M860 474.5h4M894 474.5h3M940 474.5h6M961 474.5h2M1045 474.5h2M235 475.5h1M334 475.5h3M810 475.5h1M815 475.5h1M855 475.5h2M864 475.5h4M875 475.5h19M946 475.5h15M1047 475.5h2M234 476.5h1M337 476.5h2M810 476.5h1M816 476.5h2M854 476.5h1M868 476.5h7M1049 476.5h2M233 477.5h1M339 477.5h2M809 477.5h1M818 477.5h1M853 477.5h1M1051 477.5h2M233 478.5h1M341 478.5h2M808 478.5h1M819 478.5h2M852 478.5h1M1053 478.5h1M232 479.5h1M343 479.5h2M807 479.5h1M821 479.5h1M851 479.5h1M1054 479.5h1M232 480.5h1M345 480.5h2M807 480.5h1M822 480.5h2M849 480.5h2M1055 480.5h1M231 481.5h1M347 481.5h17M506 481.5h1M806 481.5h1M824 481.5h2M848 481.5h1M1056 481.5h1M231 482.5h1M364 482.5h20M505 482.5h1M507 482.5h1M805 482.5h1M826 482.5h3M845 482.5h3M1057 482.5h2M230 483.5h1M384 483.5h6M505 483.5h1M507 483.5h1M804 483.5h1M829 483.5h2M841 483.5h4M1059 483.5h1M229 484.5h1M390 484.5h8M504 484.5h1M508 484.5h1M803 484.5h1M831 484.5h3M837 484.5h4M1060 484.5h1M229 485.5h1M398 485.5h6M504 485.5h1M509 485.5h1M803 485.5h1M834 485.5h3M1061 485.5h1M228 486.5h1M404 486.5h1M503 486.5h1M509 486.5h1M802 486.5h1M1062 486.5h1M228 487.5h1M404 487.5h1M502 487.5h1M510 487.5h1M801 487.5h1M1063 487.5h1M227 488.5h1M405 488.5h1M502 488.5h1M511 488.5h1M801 488.5h1M1064 488.5h1M227 489.5h1M406 489.5h1M501 489.5h1M511 489.5h1M800 489.5h1M1065 489.5h1M226 490.5h1M406 490.5h1M501 490.5h1M512 490.5h1M800 490.5h1M1066 490.5h1M226 491.5h1M407 491.5h1M500 491.5h1M512 491.5h1M800 491.5h1M1067 491.5h1M225 492.5h1M408 492.5h1M499 492.5h1M513 492.5h1M799 492.5h1M1068 492.5h2M225 493.5h1M409 493.5h1M499 493.5h1M514 493.5h1M799 493.5h1M1070 493.5h1M224 494.5h1M409 494.5h1M498 494.5h1M514 494.5h1M799 494.5h1M1071 494.5h1M224 495.5h1M410 495.5h1M498 495.5h1M515 495.5h1M798 495.5h1M1072 495.5h1M223 496.5h1M411 496.5h1M497 496.5h1M516 496.5h1M798 496.5h1M1073 496.5h1M223 497.5h1M411 497.5h1M496 497.5h1M516 497.5h1M798 497.5h1M1074 497.5h1M222 498.5h1M412 498.5h1M496 498.5h1M517 498.5h1M797 498.5h1M1075 498.5h2M222 499.5h1M413 499.5h1M495 499.5h1M518 499.5h1M797 499.5h1M1077 499.5h2M221 500.5h1M413 500.5h1M495 500.5h1M519 500.5h1M797 500.5h1M1079 500.5h1M221 501.5h1M414 501.5h1M494 501.5h1M520 501.5h2M796 501.5h1M1080 501.5h2M220 502.5h1M415 502.5h1M493 502.5h1M522 502.5h1M796 502.5h1M1082 502.5h2M220 503.5h1M415 503.5h1M493 503.5h1M523 503.5h1M796 503.5h1M1084 503.5h1M219 504.5h1M416 504.5h1M492 504.5h1M524 504.5h1M795 504.5h1M219 505.5h1M417 505.5h1M491 505.5h1M525 505.5h1M795 505.5h1M218 506.5h1M417 506.5h1M491 506.5h1M526 506.5h2M795 506.5h1M218 507.5h1M418 507.5h1M490 507.5h1M528 507.5h1M795 507.5h1M217 508.5h1M418 508.5h1M490 508.5h1M529 508.5h1M794 508.5h1M217 509.5h1M419 509.5h1M489 509.5h1M529 509.5h1M794 509.5h1M216 510.5h1M420 510.5h1M488 510.5h1M530 510.5h1M794 510.5h1M216 511.5h1M420 511.5h1M488 511.5h1M530 511.5h1M793 511.5h1M215 512.5h1M421 512.5h1M487 512.5h1M531 512.5h1M793 512.5h1M215 513.5h1M422 513.5h1M487 513.5h1M531 513.5h1M793 513.5h1M55 514.5h20M214 514.5h1M422 514.5h1M486 514.5h1M532 514.5h1M792 514.5h1M52 515.5h3M74 515.5h1M214 515.5h1M423 515.5h1M485 515.5h1M532 515.5h1M792 515.5h1M51 516.5h1M75 516.5h1M213 516.5h1M423 516.5h1M485 516.5h1M532 516.5h1M792 516.5h1M51 517.5h1M75 517.5h1M213 517.5h1M424 517.5h1M484 517.5h1M533 517.5h1M791 517.5h1M50 518.5h1M76 518.5h1M212 518.5h1M425 518.5h1M484 518.5h1M533 518.5h1M791 518.5h1M49 519.5h1M76 519.5h1M212 519.5h1M425 519.5h1M483 519.5h1M534 519.5h1M791 519.5h1M49 520.5h1M76 520.5h1M211 520.5h1M426 520.5h1M483 520.5h1M534 520.5h1M790 520.5h1M48 521.5h1M77 521.5h1M211 521.5h1M427 521.5h1M482 521.5h1M535 521.5h1M790 521.5h1M47 522.5h1M77 522.5h1M210 522.5h1M427 522.5h1M482 522.5h1M535 522.5h1M790 522.5h1M47 523.5h1M78 523.5h1M209 523.5h1M428 523.5h1M481 523.5h1M536 523.5h1M789 523.5h1M46 524.5h1M78 524.5h1M209 524.5h1M429 524.5h1M481 524.5h1M536 524.5h1M789 524.5h1M45 525.5h1M78 525.5h1M208 525.5h1M429 525.5h1M480 525.5h1M536 525.5h1M789 525.5h1M44 526.5h1M79 526.5h1M207 526.5h1M430 526.5h1M480 526.5h1M537 526.5h1M788 526.5h1M44 527.5h1M79 527.5h1M207 527.5h1M430 527.5h1M479 527.5h1M537 527.5h1M788 527.5h1M43 528.5h1M80 528.5h1M206 528.5h1M431 528.5h1M479 528.5h1M538 528.5h1M787 528.5h1M42 529.5h1M80 529.5h1M205 529.5h1M432 529.5h1M478 529.5h1M538 529.5h1M787 529.5h1M42 530.5h1M80 530.5h1M205 530.5h1M432 530.5h1M478 530.5h1M539 530.5h1M787 530.5h1M40 531.5h2M81 531.5h1M204 531.5h1M433 531.5h1M478 531.5h1M539 531.5h1M786 531.5h1M38 532.5h2M81 532.5h1M204 532.5h1M434 532.5h1M477 532.5h1M540 532.5h1M786 532.5h1M36 533.5h2M82 533.5h1M203 533.5h1M434 533.5h1M477 533.5h1M540 533.5h1M785 533.5h1M35 534.5h1M82 534.5h1M202 534.5h1M435 534.5h1M476 534.5h1M541 534.5h1M785 534.5h1M82 535.5h1M202 535.5h1M435 535.5h1M476 535.5h1M541 535.5h1M785 535.5h1M83 536.5h1M201 536.5h1M436 536.5h1M475 536.5h1M542 536.5h1M784 536.5h1M83 537.5h1M200 537.5h1M437 537.5h1M447 537.5h14M475 537.5h1M543 537.5h1M784 537.5h1M84 538.5h1M200 538.5h1M437 538.5h1M441 538.5h6M461 538.5h2M474 538.5h1M543 538.5h1M783 538.5h1M84 539.5h1M198 539.5h2M438 539.5h3M463 539.5h2M474 539.5h1M544 539.5h1M783 539.5h1M84 540.5h1M196 540.5h2M465 540.5h2M473 540.5h1M545 540.5h1M782 540.5h1M85 541.5h1M194 541.5h2M467 541.5h2M473 541.5h1M545 541.5h1M782 541.5h1M85 542.5h1M192 542.5h2M469 542.5h2M472 542.5h1M546 542.5h1M782 542.5h1M86 543.5h1M190 543.5h2M471 543.5h2M546 543.5h1M781 543.5h1M86 544.5h1M186 544.5h4M547 544.5h1M781 544.5h1M87 545.5h1M180 545.5h6M548 545.5h1M780 545.5h1M87 546.5h1M176 546.5h4M548 546.5h1M780 546.5h1M87 547.5h1M173 547.5h3M549 547.5h1M780 547.5h1M88 548.5h1M171 548.5h2M550 548.5h1M779 548.5h1M88 549.5h1M168 549.5h3M550 549.5h1M779 549.5h1M89 550.5h1M165 550.5h3M551 550.5h1M778 550.5h1M89 551.5h1M162 551.5h3M551 551.5h1M778 551.5h1M89 552.5h1M159 552.5h3M552 552.5h1M777 552.5h1M90 553.5h1M156 553.5h3M552 553.5h1M777 553.5h1M90 554.5h1M154 554.5h2M553 554.5h1M776 554.5h1M91 555.5h1M152 555.5h2M553 555.5h1M775 555.5h1M91 556.5h1M150 556.5h2M554 556.5h1M775 556.5h1M91 557.5h1M148 557.5h2M554 557.5h1M774 557.5h1M92 558.5h1M147 558.5h1M555 558.5h1M773 558.5h1M92 559.5h1M145 559.5h2M555 559.5h1M687 559.5h2M773 559.5h1M93 560.5h1M143 560.5h2M556 560.5h1M653 560.5h12M685 560.5h2M689 560.5h4M772 560.5h1M93 561.5h1M137 561.5h6M556 561.5h1M651 561.5h2M665 561.5h2M684 561.5h1M693 561.5h4M771 561.5h1M93 562.5h1M131 562.5h6M556 562.5h1M648 562.5h3M667 562.5h2M683 562.5h1M697 562.5h3M770 562.5h1M94 563.5h1M130 563.5h1M557 563.5h1M646 563.5h2M669 563.5h1M681 563.5h2M700 563.5h2M770 563.5h1M94 564.5h1M128 564.5h2M557 564.5h1M644 564.5h2M670 564.5h2M680 564.5h1M702 564.5h2M769 564.5h1M95 565.5h1M127 565.5h1M558 565.5h1M642 565.5h2M672 565.5h2M679 565.5h1M704 565.5h1M768 565.5h1M95 566.5h1M126 566.5h1M558 566.5h1M641 566.5h1M674 566.5h2M677 566.5h2M705 566.5h2M768 566.5h1M95 567.5h1M125 567.5h1M559 567.5h1M639 567.5h2M676 567.5h1M707 567.5h2M756 567.5h12M96 568.5h1M124 568.5h1M559 568.5h1M638 568.5h1M709 568.5h2M755 568.5h1M96 569.5h1M122 569.5h2M559 569.5h1M637 569.5h1M711 569.5h1M753 569.5h2M97 570.5h1M121 570.5h1M560 570.5h1M636 570.5h1M712 570.5h1M752 570.5h1M97 571.5h1M120 571.5h1M560 571.5h1M635 571.5h1M712 571.5h1M751 571.5h1M98 572.5h1M119 572.5h1M561 572.5h1M633 572.5h2M713 572.5h1M750 572.5h1M99 573.5h1M118 573.5h1M561 573.5h1M632 573.5h1M713 573.5h1M749 573.5h1M100 574.5h1M117 574.5h1M562 574.5h1M630 574.5h2M714 574.5h1M747 574.5h2M101 575.5h1M116 575.5h1M562 575.5h1M628 575.5h2M715 575.5h1M746 575.5h1M102 576.5h1M115 576.5h1M563 576.5h1M626 576.5h2M715 576.5h1M745 576.5h1M103 577.5h1M113 577.5h2M563 577.5h1M624 577.5h2M716 577.5h1M744 577.5h1M104 578.5h1M112 578.5h1M564 578.5h1M622 578.5h2M717 578.5h1M743 578.5h1M105 579.5h1M111 579.5h1M565 579.5h1M619 579.5h3M717 579.5h1M741 579.5h2M106 580.5h1M110 580.5h1M566 580.5h1M616 580.5h3M718 580.5h1M740 580.5h1M107 581.5h1M109 581.5h1M567 581.5h1M613 581.5h3M718 581.5h1M739 581.5h1M108 582.5h1M568 582.5h2M610 582.5h3M719 582.5h1M738 582.5h1M570 583.5h1M603 583.5h7M720 583.5h1M737 583.5h1M571 584.5h1M595 584.5h8M720 584.5h1M735 584.5h2M572 585.5h1M591 585.5h4M721 585.5h1M734 585.5h1M573 586.5h1M587 586.5h4M721 586.5h1M728 586.5h6M574 587.5h13M722 587.5h6" fill="none" stroke="#ff0000" stroke-width="1" shape-rendering="crispEdges"/>
<path d="M267 468.5h1M271 468.5h3M277 468.5h3M283 468.5h2M265 469.5h2M285 469.5h1M289 469.5h3M295 469.5h1M260 470.5h2M296 470.5h2M301 470.5h3M307 470.5h3M313 470.5h3M924 470.5h1M1012 470.5h3M1018 470.5h3M1024 470.5h3M1030 470.5h3M1036 470.5h3M1042 470.5h2M259 471.5h1M319 471.5h3M325 471.5h3M922 471.5h2M928 471.5h3M982 471.5h3M988 471.5h3M994 471.5h3M1000 471.5h3M1006 471.5h3M1044 471.5h1M1048 471.5h2M255 472.5h1M331 472.5h3M917 472.5h2M934 472.5h3M940 472.5h3M976 472.5h3M1050 472.5h1M254 473.5h1M337 473.5h1M904 473.5h3M910 473.5h3M916 473.5h1M946 473.5h3M970 473.5h3M1054 473.5h1M253 474.5h1M338 474.5h2M898 474.5h3M952 474.5h3M964 474.5h3M1055 474.5h2M343 475.5h3M880 475.5h3M886 475.5h3M892 475.5h3M958 475.5h3M874 476.5h3M1060 476.5h1M249 477.5h1M349 477.5h3M868 477.5h3M1061 477.5h2M248 478.5h1M355 478.5h2M864 478.5h1M247 479.5h1M357 479.5h1M862 479.5h2M361 480.5h3M826 480.5h3M832 480.5h3M856 480.5h3M1066 480.5h1M367 481.5h3M373 481.5h2M838 481.5h3M850 481.5h3M1067 481.5h1M375 482.5h1M379 482.5h3M385 482.5h2M822 482.5h1M844 482.5h3M1068 482.5h1M243 483.5h1M387 483.5h1M391 483.5h3M397 483.5h1M821 483.5h1M243 484.5h1M398 484.5h2M403 484.5h1M820 484.5h1M242 485.5h1M404 485.5h2M1072 485.5h2M1074 486.5h1M409 488.5h2M817 488.5h1M239 489.5h1M411 489.5h1M816 489.5h1M1078 489.5h1M239 490.5h1M815 490.5h1M1079 490.5h1M238 491.5h1M1080 491.5h1M415 492.5h1M416 493.5h1M417 494.5h1M812 494.5h1M1084 494.5h1M236 495.5h1M515 495.5h2M520 495.5h3M811 495.5h1M235 496.5h1M514 496.5h1M526 496.5h1M811 496.5h1M234 497.5h1M527 497.5h2M420 498.5h1M510 498.5h1M421 499.5h1M509 499.5h1M422 500.5h1M508 500.5h1M532 500.5h1M809 500.5h1M232 501.5h1M532 501.5h1M809 501.5h1M231 502.5h1M533 502.5h1M808 502.5h1M231 503.5h1M505 503.5h1M425 504.5h1M504 504.5h1M426 505.5h1M504 505.5h1M427 506.5h1M537 506.5h1M807 506.5h1M229 507.5h1M537 507.5h1M806 507.5h1M228 508.5h1M538 508.5h1M806 508.5h1M228 509.5h1M501 509.5h1M430 510.5h1M501 510.5h1M431 511.5h1M500 511.5h1M432 512.5h1M541 512.5h1M804 512.5h1M225 513.5h1M541 513.5h1M804 513.5h1M225 514.5h1M542 514.5h1M803 514.5h1M73 515.5h1M224 515.5h1M498 515.5h1M71 516.5h2M435 516.5h1M497 516.5h1M77 517.5h2M436 517.5h1M497 517.5h1M67 518.5h1M79 518.5h1M437 518.5h1M544 518.5h1M801 518.5h1M65 519.5h2M222 519.5h1M545 519.5h1M801 519.5h1M83 520.5h1M221 520.5h1M546 520.5h1M801 520.5h1M61 521.5h1M84 521.5h2M220 521.5h1M495 521.5h1M59 522.5h2M441 522.5h1M494 522.5h1M441 523.5h1M493 523.5h1M55 524.5h1M442 524.5h1M548 524.5h1M799 524.5h1M53 525.5h2M88 525.5h1M217 525.5h1M548 525.5h1M798 525.5h1M88 526.5h1M216 526.5h1M549 526.5h1M798 526.5h1M89 527.5h1M216 527.5h1M489 527.5h1M446 528.5h1M488 528.5h1M49 529.5h1M446 529.5h1M487 529.5h1M48 530.5h1M447 530.5h1M551 530.5h1M796 530.5h1M47 531.5h1M91 531.5h1M212 531.5h1M552 531.5h1M796 531.5h1M91 532.5h1M212 532.5h1M552 532.5h1M795 532.5h1M92 533.5h1M211 533.5h1M451 533.5h2M483 533.5h1M43 534.5h1M453 534.5h1M481 534.5h2M42 535.5h1M457 535.5h1M35 536.5h3M41 536.5h1M207 536.5h1M458 536.5h2M554 536.5h1M793 536.5h1M94 537.5h1M206 537.5h1M477 537.5h1M555 537.5h1M793 537.5h1M94 538.5h1M205 538.5h1M463 538.5h3M476 538.5h1M555 538.5h1M793 538.5h1M95 539.5h1M475 539.5h1M469 540.5h2M200 541.5h2M471 541.5h1M199 542.5h1M557 542.5h1M791 542.5h1M97 543.5h1M195 543.5h1M558 543.5h1M790 543.5h1M97 544.5h1M193 544.5h2M558 544.5h1M790 544.5h1M98 545.5h1M187 546.5h3M183 547.5h1M181 548.5h2M560 548.5h1M788 548.5h1M100 549.5h1M176 549.5h2M561 549.5h1M787 549.5h1M100 550.5h1M175 550.5h1M561 550.5h1M786 550.5h1M101 551.5h1M170 552.5h2M169 553.5h1M165 554.5h1M563 554.5h1M783 554.5h1M103 555.5h1M163 555.5h2M564 555.5h1M782 555.5h1M103 556.5h1M564 556.5h1M782 556.5h1M104 557.5h1M158 557.5h2M157 558.5h1M152 560.5h2M567 560.5h1M779 560.5h1M106 561.5h1M151 561.5h1M567 561.5h1M778 561.5h1M106 562.5h1M568 562.5h1M663 562.5h3M669 562.5h1M682 562.5h2M687 562.5h3M777 562.5h1M107 563.5h1M147 563.5h1M670 563.5h2M675 563.5h3M681 563.5h1M693 563.5h3M699 563.5h3M705 563.5h3M711 563.5h1M145 564.5h2M658 564.5h2M712 564.5h1M657 565.5h1M713 565.5h1M570 566.5h1M653 566.5h1M772 566.5h2M109 567.5h2M140 567.5h2M571 567.5h1M651 567.5h2M771 567.5h1M111 568.5h1M139 568.5h1M572 568.5h1M717 568.5h1M647 569.5h1M718 569.5h1M134 570.5h2M645 570.5h2M719 570.5h1M115 571.5h1M133 571.5h1M767 571.5h1M116 572.5h1M128 572.5h2M574 572.5h1M765 572.5h2M117 573.5h1M122 573.5h2M127 573.5h1M575 573.5h1M640 573.5h2M723 573.5h1M121 574.5h1M576 574.5h1M639 574.5h1M724 574.5h2M761 574.5h1M759 575.5h2M634 576.5h2M633 577.5h1M755 577.5h1M580 578.5h1M729 578.5h1M753 578.5h2M580 579.5h1M627 579.5h3M730 579.5h2M581 580.5h1M622 580.5h2M749 580.5h1M621 581.5h1M735 581.5h1M747 581.5h2M615 582.5h3M736 582.5h2M741 582.5h1M610 583.5h2M742 583.5h2M585 584.5h3M609 584.5h1M591 585.5h3M603 585.5h3M597 586.5h3" fill="none" stroke="#000" stroke-width="1" shape-rendering="crispEdges"/>
<path d="M1039 44.5h1M1038 45.5h1M1037 46.5h1M1036 47.5h1M1036 48.5h1M1035 49.5h1M1034 50.5h1M1033 51.5h1M1032 52.5h1M1031 53.5h1M1030 54.5h1M1029 55.5h1M1029 56.5h1M1028 57.5h1M1027 58.5h1M1026 59.5h1M1025 60.5h1M1024 61.5h1M1023 62.5h1M1022 63.5h1M1022 64.5h1M1021 65.5h1M1020 66.5h1M1019 67.5h1M1018 68.5h1M1017 69.5h1M1016 70.5h1M1016 71.5h1M1015 72.5h1M1014 73.5h1M1013 74.5h1M1012 75.5h1M1011 76.5h1M1010 77.5h1M1009 78.5h1M1009 79.5h1M1008 80.5h1M1007 81.5h1M1006 82.5h1M1005 83.5h1M1004 84.5h1M1003 85.5h1M1002 86.5h1M1002 87.5h1M1001 88.5h1M1000 89.5h1M999 90.5h1M998 91.5h1M997 92.5h1M996 93.5h1M995 94.5h1M995 95.5h1M994 96.5h1M993 97.5h1M992 98.5h1M991 99.5h1M990 100.5h1M989 101.5h1M989 102.5h1M988 103.5h1M987 104.5h1M986 105.5h1M985 106.5h1M984 107.5h1M983 108.5h1M982 109.5h1M982 110.5h1M981 111.5h1M980 112.5h1M979 113.5h1M978 114.5h1M977 115.5h1M976 116.5h1M975 117.5h1M975 118.5h1M974 119.5h1M973 120.5h1M972 121.5h1M971 122.5h1M970 123.5h1M969 124.5h1M969 125.5h1M968 126.5h1M967 127.5h1M966 128.5h1M965 129.5h1M964 130.5h1M963 131.5h1M962 132.5h1M962 133.5h1M961 134.5h1M960 135.5h1M959 136.5h1M958 137.5h1M957 138.5h1M956 139.5h1M955 140.5h1M955 141.5h1M954 142.5h1M953 143.5h1M952 144.5h1M951 145.5h1M950 146.5h1M949 147.5h1M948 148.5h1M948 149.5h1M947 150.5h1M946 151.5h1M945 152.5h1M944 153.5h1M943 154.5h1M942 155.5h1M942 156.5h1M941 157.5h1M940 158.5h1M939 159.5h1M938 160.5h1M937 161.5h1M936 162.5h1M935 163.5h1M935 164.5h1M934 165.5h1M933 166.5h1M932 167.5h1M931 168.5h1M930 169.5h1M929 170.5h1M928 171.5h1M928 172.5h1M927 173.5h1M926 174.5h1M925 175.5h1M924 176.5h1M923 177.5h1M922 178.5h1M922 179.5h1M921 180.5h1M920 181.5h1M919 182.5h1M918 183.5h1M917 184.5h1M916 185.5h1M915 186.5h1M915 187.5h1M914 188.5h1M913 189.5h1M302 190.5h2M912 190.5h1M304 191.5h2M911 191.5h1M306 192.5h3M910 192.5h1M309 193.5h3M909 193.5h1M301 194.5h1M312 194.5h2M908 194.5h1M300 195.5h1M314 195.5h3M908 195.5h1M299 196.5h1M317 196.5h2M907 196.5h1M298 197.5h1M319 197.5h3M906 197.5h1M297 198.5h1M322 198.5h2M905 198.5h1M296 199.5h1M324 199.5h3M904 199.5h1M295 200.5h1M327 200.5h3M903 200.5h1M295 201.5h1M330 201.5h2M902 201.5h1M294 202.5h1M332 202.5h3M901 202.5h1M293 203.5h1M335 203.5h2M901 203.5h1M292 204.5h1M337 204.5h3M900 204.5h1M291 205.5h1M340 205.5h2M899 205.5h1M290 206.5h1M342 206.5h3M898 206.5h1M289 207.5h1M345 207.5h3M897 207.5h1M288 208.5h1M348 208.5h2M896 208.5h1M287 209.5h1M350 209.5h3M895 209.5h1M286 210.5h1M353 210.5h2M895 210.5h1M285 211.5h1M355 211.5h3M894 211.5h1M284 212.5h1M358 212.5h3M893 212.5h1M283 213.5h1M361 213.5h2M892 213.5h1M283 214.5h1M363 214.5h3M891 214.5h1M282 215.5h1M366 215.5h2M890 215.5h1M281 216.5h1M368 216.5h3M889 216.5h1M280 217.5h1M371 217.5h2M888 217.5h1M279 218.5h1M373 218.5h3M888 218.5h1M278 219.5h1M376 219.5h3M887 219.5h1M277 220.5h1M379 220.5h2M886 220.5h1M276 221.5h1M381 221.5h3M885 221.5h1M275 222.5h1M384 222.5h2M884 222.5h1M274 223.5h1M386 223.5h3M883 223.5h1M273 224.5h1M389 224.5h2M882 224.5h1M272 225.5h1M391 225.5h3M881 225.5h1M271 226.5h1M394 226.5h3M881 226.5h1M271 227.5h1M397 227.5h2M880 227.5h1M270 228.5h1M399 228.5h3M879 228.5h1M269 229.5h1M402 229.5h2M878 229.5h1M268 230.5h1M404 230.5h3M877 230.5h1M267 231.5h1M407 231.5h3M876 231.5h1M266 232.5h1M410 232.5h2M875 232.5h1M265 233.5h1M412 233.5h3M875 233.5h1M264 234.5h1M415 234.5h2M874 234.5h1M263 235.5h1M417 235.5h3M873 235.5h1M262 236.5h1M420 236.5h2M872 236.5h1M261 237.5h1M422 237.5h3M871 237.5h1M260 238.5h1M425 238.5h3M870 238.5h1M259 239.5h1M428 239.5h2M869 239.5h1M259 240.5h1M430 240.5h3M868 240.5h1M258 241.5h1M433 241.5h2M868 241.5h1M257 242.5h1M435 242.5h3M867 242.5h1M256 243.5h1M438 243.5h2M866 243.5h1M255 244.5h1M440 244.5h3M865 244.5h1M254 245.5h1M443 245.5h3M864 245.5h1M253 246.5h1M446 246.5h2M863 246.5h1M252 247.5h1M448 247.5h3M862 247.5h1M251 248.5h1M451 248.5h2M861 248.5h1M250 249.5h1M453 249.5h3M861 249.5h1M249 250.5h1M456 250.5h3M860 250.5h1M248 251.5h1M459 251.5h2M859 251.5h1M247 252.5h1M461 252.5h3M858 252.5h1M247 253.5h1M464 253.5h2M857 253.5h1M246 254.5h1M466 254.5h3M856 254.5h1M245 255.5h1M469 255.5h2M855 255.5h1M244 256.5h1M471 256.5h3M854 256.5h1M243 257.5h1M474 257.5h3M854 257.5h1M242 258.5h1M477 258.5h2M853 258.5h1M241 259.5h1M479 259.5h3M852 259.5h1M240 260.5h1M482 260.5h2M851 260.5h1M239 261.5h1M484 261.5h3M850 261.5h1M238 262.5h1M487 262.5h2M849 262.5h1M237 263.5h1M489 263.5h3M848 263.5h1M236 264.5h1M492 264.5h3M848 264.5h1M235 265.5h1M495 265.5h2M847 265.5h1M235 266.5h1M497 266.5h3M846 266.5h1M234 267.5h1M500 267.5h2M845 267.5h1M233 268.5h1M502 268.5h3M844 268.5h1M232 269.5h1M505 269.5h3M843 269.5h1M231 270.5h1M508 270.5h2M842 270.5h1M230 271.5h1M510 271.5h3M841 271.5h1M229 272.5h1M513 272.5h2M841 272.5h1M228 273.5h1M515 273.5h3M840 273.5h1M227 274.5h1M518 274.5h2M839 274.5h1M226 275.5h1M520 275.5h3M838 275.5h1M225 276.5h1M523 276.5h3M837 276.5h1M224 277.5h1M526 277.5h2M836 277.5h1M223 278.5h1M528 278.5h3M835 278.5h1M223 279.5h1M531 279.5h2M834 279.5h1M222 280.5h1M533 280.5h3M834 280.5h1M221 281.5h1M536 281.5h2M833 281.5h1M220 282.5h1M538 282.5h3M832 282.5h1M219 283.5h1M541 283.5h3M831 283.5h1M218 284.5h1M544 284.5h2M830 284.5h1M217 285.5h1M546 285.5h3M829 285.5h1M216 286.5h1M549 286.5h2M828 286.5h1M215 287.5h1M551 287.5h3M828 287.5h1M214 288.5h1M554 288.5h3M827 288.5h1M213 289.5h1M557 289.5h2M826 289.5h1M212 290.5h1M559 290.5h3M825 290.5h1M211 291.5h1M562 291.5h2M824 291.5h1M211 292.5h1M564 292.5h3M823 292.5h1M210 293.5h1M567 293.5h2M822 293.5h1M209 294.5h1M569 294.5h3M821 294.5h1M208 295.5h1M572 295.5h3M821 295.5h1M207 296.5h1M575 296.5h2M820 296.5h1M206 297.5h1M577 297.5h3M819 297.5h1M205 298.5h1M580 298.5h2M818 298.5h1M204 299.5h1M582 299.5h3M817 299.5h1M203 300.5h1M585 300.5h2M816 300.5h1M202 301.5h1M587 301.5h3M815 301.5h1M201 302.5h1M590 302.5h3M814 302.5h1M200 303.5h1M593 303.5h2M814 303.5h1M200 304.5h1M595 304.5h3M813 304.5h1M199 305.5h1M598 305.5h2M812 305.5h1M198 306.5h1M600 306.5h3M811 306.5h1M197 307.5h1M603 307.5h3M810 307.5h1M196 308.5h1M606 308.5h2M809 308.5h1M195 309.5h1M608 309.5h3M808 309.5h1M194 310.5h1M611 310.5h2M807 310.5h1M193 311.5h1M613 311.5h3M807 311.5h1M192 312.5h1M616 312.5h2M806 312.5h1M191 313.5h1M618 313.5h3M805 313.5h1M190 314.5h1M621 314.5h3M804 314.5h1M189 315.5h1M624 315.5h2M803 315.5h1M188 316.5h1M626 316.5h3M802 316.5h1M188 317.5h1M629 317.5h2M801 317.5h1M187 318.5h1M631 318.5h3M801 318.5h1M186 319.5h1M634 319.5h2M800 319.5h1M185 320.5h1M636 320.5h3M799 320.5h1M184 321.5h1M639 321.5h3M798 321.5h1M183 322.5h1M642 322.5h2M797 322.5h1M182 323.5h1M644 323.5h3M796 323.5h1M181 324.5h1M647 324.5h2M795 324.5h1M180 325.5h1M649 325.5h3M794 325.5h1M179 326.5h1M652 326.5h3M794 326.5h1M178 327.5h1M655 327.5h2M793 327.5h1M177 328.5h1M657 328.5h3M792 328.5h1M176 329.5h1M660 329.5h2M791 329.5h1M176 330.5h1M662 330.5h3M790 330.5h1M175 331.5h1M665 331.5h2M789 331.5h1M174 332.5h1M667 332.5h3M788 332.5h1M173 333.5h1M670 333.5h3M787 333.5h1M172 334.5h1M673 334.5h2M787 334.5h1M171 335.5h1M675 335.5h3M786 335.5h1M170 336.5h1M678 336.5h2M785 336.5h1M169 337.5h1M680 337.5h3M784 337.5h1M168 338.5h1M683 338.5h2M783 338.5h1M167 339.5h1M685 339.5h3M782 339.5h1M166 340.5h1M688 340.5h3M781 340.5h1M165 341.5h1M691 341.5h2M781 341.5h1M164 342.5h1M693 342.5h3M780 342.5h1M164 343.5h1M696 343.5h2M779 343.5h1M163 344.5h1M698 344.5h3M778 344.5h1M162 345.5h1M701 345.5h3M777 345.5h1M161 346.5h1M704 346.5h2M776 346.5h1M160 347.5h1M706 347.5h3M775 347.5h1M159 348.5h1M709 348.5h2M774 348.5h1M158 349.5h1M711 349.5h3M774 349.5h1M157 350.5h1M714 350.5h2M773 350.5h1M156 351.5h1M716 351.5h3M772 351.5h1M155 352.5h1M719 352.5h3M771 352.5h1M154 353.5h1M722 353.5h2M770 353.5h1M153 354.5h1M724 354.5h3M769 354.5h1M152 355.5h1M727 355.5h2M768 355.5h1M152 356.5h1M729 356.5h3M767 356.5h1M151 357.5h1M732 357.5h2M767 357.5h1M150 358.5h1M734 358.5h3M766 358.5h1M149 359.5h1M737 359.5h3M765 359.5h1M148 360.5h1M740 360.5h2M764 360.5h1M147 361.5h1M742 361.5h2M763 361.5h1M146 362.5h1M762 362.5h1M145 363.5h1M761 363.5h1M144 364.5h1M760 364.5h1M143 365.5h1M760 365.5h1M142 366.5h1M759 366.5h1M141 367.5h1M758 367.5h1M140 368.5h1M757 368.5h1M140 369.5h1M139 370.5h1M138 371.5h1M137 372.5h1M136 373.5h1M135 374.5h1M134 375.5h1M133 376.5h1M132 377.5h1M131 378.5h1M130 379.5h1M129 380.5h1M128 381.5h1M128 382.5h1M127 383.5h1M126 384.5h1M125 385.5h1M124 386.5h1M123 387.5h1M122 388.5h1M121 389.5h1M120 390.5h1M119 391.5h1M118 392.5h1M117 393.5h1M116 394.5h1M116 395.5h1M115 396.5h1M114 397.5h1M113 398.5h1M112 399.5h1M111 400.5h1M110 401.5h1M109 402.5h1M108 403.5h1M107 404.5h1M106 405.5h1M105 406.5h1M104 407.5h1M104 408.5h1M103 409.5h1M102 410.5h1M101 411.5h1M100 412.5h1M99 413.5h1M98 414.5h1" fill="none" stroke="#0000ff" stroke-width="1" shape-rendering="crispEdges"/>
<text x="26.2" y="18" text-anchor="end" textLength="18.2" lengthAdjust="spacingAndGlyphs" fill="#111122" stroke="#111122" stroke-width="0.1" font-size="10.0">7850</text>
<text x="1247.5" y="18" text-anchor="end" textLength="18.5" lengthAdjust="spacingAndGlyphs" fill="#111122" stroke="#111122" stroke-width="0.1" font-size="10.0">7850</text>
<text x="26.2" y="49" text-anchor="end" textLength="18.2" lengthAdjust="spacingAndGlyphs" fill="#111122" stroke="#111122" stroke-width="0.1" font-size="10.0">7800</text>
<text x="1247.5" y="49" text-anchor="end" textLength="18.5" lengthAdjust="spacingAndGlyphs" fill="#111122" stroke="#111122" stroke-width="0.1" font-size="10.0">7800</text>
<text x="26.2" y="80" text-anchor="end" textLength="18.2" lengthAdjust="spacingAndGlyphs" fill="#111122" stroke="#111122" stroke-width="0.1" font-size="10.0">7750</text>
<text x="1247.5" y="80" text-anchor="end" textLength="18.5" lengthAdjust="spacingAndGlyphs" fill="#111122" stroke="#111122" stroke-width="0.1" font-size="10.0">7750</text>
<text x="26.2" y="111" text-anchor="end" textLength="18.2" lengthAdjust="spacingAndGlyphs" fill="#111122" stroke="#111122" stroke-width="0.1" font-size="10.0">7700</text>
<text x="1247.5" y="111" text-anchor="end" textLength="18.5" lengthAdjust="spacingAndGlyphs" fill="#111122" stroke="#111122" stroke-width="0.1" font-size="10.0">7700</text>
<text x="26.2" y="142" text-anchor="end" textLength="18.2" lengthAdjust="spacingAndGlyphs" fill="#111122" stroke="#111122" stroke-width="0.1" font-size="10.0">7650</text>
<text x="1247.5" y="142" text-anchor="end" textLength="18.5" lengthAdjust="spacingAndGlyphs" fill="#111122" stroke="#111122" stroke-width="0.1" font-size="10.0">7650</text>
<text x="26.2" y="173" text-anchor="end" textLength="18.2" lengthAdjust="spacingAndGlyphs" fill="#111122" stroke="#111122" stroke-width="0.1" font-size="10.0">7600</text>
<text x="1247.5" y="173" text-anchor="end" textLength="18.5" lengthAdjust="spacingAndGlyphs" fill="#111122" stroke="#111122" stroke-width="0.1" font-size="10.0">7600</text>
<text x="26.2" y="204" text-anchor="end" textLength="18.2" lengthAdjust="spacingAndGlyphs" fill="#111122" stroke="#111122" stroke-width="0.1" font-size="10.0">7550</text>
<text x="1247.5" y="204" text-anchor="end" textLength="18.5" lengthAdjust="spacingAndGlyphs" fill="#111122" stroke="#111122" stroke-width="0.1" font-size="10.0">7550</text>
<text x="26.2" y="235" text-anchor="end" textLength="18.2" lengthAdjust="spacingAndGlyphs" fill="#111122" stroke="#111122" stroke-width="0.1" font-size="10.0">7500</text>
<text x="1247.5" y="235" text-anchor="end" textLength="18.5" lengthAdjust="spacingAndGlyphs" fill="#111122" stroke="#111122" stroke-width="0.1" font-size="10.0">7500</text>
<text x="26.2" y="266" text-anchor="end" textLength="18.2" lengthAdjust="spacingAndGlyphs" fill="#111122" stroke="#111122" stroke-width="0.1" font-size="10.0">7450</text>
<text x="1247.5" y="266" text-anchor="end" textLength="18.5" lengthAdjust="spacingAndGlyphs" fill="#111122" stroke="#111122" stroke-width="0.1" font-size="10.0">7450</text>
<text x="26.2" y="297" text-anchor="end" textLength="18.2" lengthAdjust="spacingAndGlyphs" fill="#111122" stroke="#111122" stroke-width="0.1" font-size="10.0">7400</text>
<text x="1247.5" y="297" text-anchor="end" textLength="18.5" lengthAdjust="spacingAndGlyphs" fill="#111122" stroke="#111122" stroke-width="0.1" font-size="10.0">7400</text>
<text x="26.2" y="328" text-anchor="end" textLength="18.2" lengthAdjust="spacingAndGlyphs" fill="#111122" stroke="#111122" stroke-width="0.1" font-size="10.0">7350</text>
<text x="1247.5" y="328" text-anchor="end" textLength="18.5" lengthAdjust="spacingAndGlyphs" fill="#111122" stroke="#111122" stroke-width="0.1" font-size="10.0">7350</text>
<text x="26.2" y="359" text-anchor="end" textLength="18.2" lengthAdjust="spacingAndGlyphs" fill="#111122" stroke="#111122" stroke-width="0.1" font-size="10.0">7300</text>
<text x="1247.5" y="359" text-anchor="end" textLength="18.5" lengthAdjust="spacingAndGlyphs" fill="#111122" stroke="#111122" stroke-width="0.1" font-size="10.0">7300</text>
<text x="26.2" y="390" text-anchor="end" textLength="18.2" lengthAdjust="spacingAndGlyphs" fill="#111122" stroke="#111122" stroke-width="0.1" font-size="10.0">7250</text>
<text x="1247.5" y="390" text-anchor="end" textLength="18.5" lengthAdjust="spacingAndGlyphs" fill="#111122" stroke="#111122" stroke-width="0.1" font-size="10.0">7250</text>
<text x="26.2" y="421" text-anchor="end" textLength="18.2" lengthAdjust="spacingAndGlyphs" fill="#111122" stroke="#111122" stroke-width="0.1" font-size="10.0">7200</text>
<text x="1247.5" y="421" text-anchor="end" textLength="18.5" lengthAdjust="spacingAndGlyphs" fill="#111122" stroke="#111122" stroke-width="0.1" font-size="10.0">7200</text>
<text x="26.2" y="452" text-anchor="end" textLength="18.2" lengthAdjust="spacingAndGlyphs" fill="#111122" stroke="#111122" stroke-width="0.1" font-size="10.0">7150</text>
<text x="1247.5" y="452" text-anchor="end" textLength="18.5" lengthAdjust="spacingAndGlyphs" fill="#111122" stroke="#111122" stroke-width="0.1" font-size="10.0">7150</text>
<text x="25.8" y="470" text-anchor="end" textLength="13.200000000000001" lengthAdjust="spacingAndGlyphs" fill="#111122" stroke="#111122" stroke-width="0.1" font-size="10.0">100</text>
<text x="25.8" y="483" text-anchor="end" textLength="8.8" lengthAdjust="spacingAndGlyphs" fill="#111122" stroke="#111122" stroke-width="0.1" font-size="10.0">90</text>
<text x="25.8" y="496" text-anchor="end" textLength="8.8" lengthAdjust="spacingAndGlyphs" fill="#111122" stroke="#111122" stroke-width="0.1" font-size="10.0">80</text>
<text x="25.8" y="509" text-anchor="end" textLength="8.8" lengthAdjust="spacingAndGlyphs" fill="#111122" stroke="#111122" stroke-width="0.1" font-size="10.0">70</text>
<text x="25.8" y="522" text-anchor="end" textLength="8.8" lengthAdjust="spacingAndGlyphs" fill="#111122" stroke="#111122" stroke-width="0.1" font-size="10.0">60</text>
<text x="25.8" y="535" text-anchor="end" textLength="8.8" lengthAdjust="spacingAndGlyphs" fill="#111122" stroke="#111122" stroke-width="0.1" font-size="10.0">50</text>
<text x="25.8" y="549" text-anchor="end" textLength="8.8" lengthAdjust="spacingAndGlyphs" fill="#111122" stroke="#111122" stroke-width="0.1" font-size="10.0">40</text>
<text x="25.8" y="562" text-anchor="end" textLength="8.8" lengthAdjust="spacingAndGlyphs" fill="#111122" stroke="#111122" stroke-width="0.1" font-size="10.0">30</text>
<text x="25.8" y="575" text-anchor="end" textLength="8.8" lengthAdjust="spacingAndGlyphs" fill="#111122" stroke="#111122" stroke-width="0.1" font-size="10.0">20</text>
<text x="25.8" y="588" text-anchor="end" textLength="8.8" lengthAdjust="spacingAndGlyphs" fill="#111122" stroke="#111122" stroke-width="0.1" font-size="10.0">10</text>
<text x="1247.5" y="472" text-anchor="end" textLength="10.5" lengthAdjust="spacingAndGlyphs" fill="#111122" stroke="#111122" stroke-width="0.1" font-size="10.0">1.5</text>
<text x="1247.5" y="495" text-anchor="end" textLength="10.5" lengthAdjust="spacingAndGlyphs" fill="#111122" stroke="#111122" stroke-width="0.1" font-size="10.0">1.0</text>
<text x="1247.5" y="516" text-anchor="end" textLength="10.5" lengthAdjust="spacingAndGlyphs" fill="#111122" stroke="#111122" stroke-width="0.1" font-size="10.0">0.5</text>
<text x="1247.5" y="538" text-anchor="end" textLength="10.5" lengthAdjust="spacingAndGlyphs" fill="#111122" stroke="#111122" stroke-width="0.1" font-size="10.0">0.0</text>
<text x="1247.5" y="560" text-anchor="end" textLength="13.5" lengthAdjust="spacingAndGlyphs" fill="#111122" stroke="#111122" stroke-width="0.1" font-size="10.0">-0.5</text>
<text x="1247.5" y="582" text-anchor="end" textLength="13.5" lengthAdjust="spacingAndGlyphs" fill="#111122" stroke="#111122" stroke-width="0.1" font-size="10.0">-1.0</text>
<text x="53.5" y="609" textLength="9.0" lengthAdjust="spacingAndGlyphs" fill="#111122" stroke="#111122" stroke-width="0.1" font-size="10.0">11</text>
<text x="109.5" y="609" textLength="9.0" lengthAdjust="spacingAndGlyphs" fill="#111122" stroke="#111122" stroke-width="0.1" font-size="10.0">18</text>
<text x="166.5" y="609" textLength="9.0" lengthAdjust="spacingAndGlyphs" fill="#111122" stroke="#111122" stroke-width="0.1" font-size="10.0">25</text>
<text x="223.5" y="609" textLength="4.5" lengthAdjust="spacingAndGlyphs" fill="#111122" stroke="#111122" stroke-width="0.1" font-size="10.0">2</text>
<text x="280.5" y="609" textLength="4.5" lengthAdjust="spacingAndGlyphs" fill="#111122" stroke="#111122" stroke-width="0.1" font-size="10.0">9</text>
<text x="337.5" y="609" textLength="9.0" lengthAdjust="spacingAndGlyphs" fill="#111122" stroke="#111122" stroke-width="0.1" font-size="10.0">16</text>
<text x="394.5" y="609" textLength="9.0" lengthAdjust="spacingAndGlyphs" fill="#111122" stroke="#111122" stroke-width="0.1" font-size="10.0">23</text>
<text x="450.5" y="609" textLength="9.0" lengthAdjust="spacingAndGlyphs" fill="#111122" stroke="#111122" stroke-width="0.1" font-size="10.0">30</text>
<text x="507.5" y="609" textLength="4.5" lengthAdjust="spacingAndGlyphs" fill="#111122" stroke="#111122" stroke-width="0.1" font-size="10.0">6</text>
<text x="564.5" y="609" textLength="9.0" lengthAdjust="spacingAndGlyphs" fill="#111122" stroke="#111122" stroke-width="0.1" font-size="10.0">13</text>
<text x="620.5" y="609" textLength="9.0" lengthAdjust="spacingAndGlyphs" fill="#111122" stroke="#111122" stroke-width="0.1" font-size="10.0">20</text>
<text x="677.5" y="609" textLength="9.0" lengthAdjust="spacingAndGlyphs" fill="#111122" stroke="#111122" stroke-width="0.1" font-size="10.0">27</text>
<text x="734.5" y="609" textLength="4.5" lengthAdjust="spacingAndGlyphs" fill="#111122" stroke="#111122" stroke-width="0.1" font-size="10.0">4</text>
<text x="790.5" y="609" textLength="9.0" lengthAdjust="spacingAndGlyphs" fill="#111122" stroke="#111122" stroke-width="0.1" font-size="10.0">11</text>
<text x="847.5" y="609" textLength="9.0" lengthAdjust="spacingAndGlyphs" fill="#111122" stroke="#111122" stroke-width="0.1" font-size="10.0">18</text>
<text x="904.5" y="609" textLength="9.0" lengthAdjust="spacingAndGlyphs" fill="#111122" stroke="#111122" stroke-width="0.1" font-size="10.0">27</text>
<text x="938.5" y="609" textLength="4.5" lengthAdjust="spacingAndGlyphs" fill="#111122" stroke="#111122" stroke-width="0.1" font-size="10.0">2</text>
<text x="984.5" y="609" textLength="4.5" lengthAdjust="spacingAndGlyphs" fill="#111122" stroke="#111122" stroke-width="0.1" font-size="10.0">8</text>
<text x="1041.5" y="609" textLength="9.0" lengthAdjust="spacingAndGlyphs" fill="#111122" stroke="#111122" stroke-width="0.1" font-size="10.0">15</text>
<text x="1097.5" y="609" textLength="9.0" lengthAdjust="spacingAndGlyphs" fill="#111122" stroke="#111122" stroke-width="0.1" font-size="10.0">22</text>
<text x="1154.5" y="609" textLength="9.0" lengthAdjust="spacingAndGlyphs" fill="#111122" stroke="#111122" stroke-width="0.1" font-size="10.0">29</text>
<text x="1211.5" y="609" textLength="4.5" lengthAdjust="spacingAndGlyphs" fill="#111122" stroke="#111122" stroke-width="0.1" font-size="10.0">5</text>
<clipPath id="cp"><rect x="0" y="0" width="1216" height="623"/></clipPath>
<g clip-path="url(#cp)">
<text x="223.5" y="621" textLength="28.5" lengthAdjust="spacingAndGlyphs" fill="#111122" stroke="#111122" stroke-width="0.1" font-size="10.0">October</text>
<text x="473.5" y="621" textLength="38.2" lengthAdjust="spacingAndGlyphs" fill="#111122" stroke="#111122" stroke-width="0.1" font-size="10.0">November</text>
<text x="723.5" y="621" textLength="38.2" lengthAdjust="spacingAndGlyphs" fill="#111122" stroke="#111122" stroke-width="0.1" font-size="10.0">December</text>
<text x="938.5" y="621" textLength="18.4" lengthAdjust="spacingAndGlyphs" fill="#111122" stroke="#111122" stroke-width="0.1" font-size="10.0">2018</text>
<text x="1188.5" y="621" textLength="33" lengthAdjust="spacingAndGlyphs" fill="#111122" stroke="#111122" stroke-width="0.1" font-size="10.0">February</text>
</g>
<text x="508" y="11" textLength="232.5" lengthAdjust="spacingAndGlyphs" fill="#111122" stroke="#111122" stroke-width="0.1" font-size="10.0">IFTSE-100 (7,700.96, 7,731.82, 7,694.66, 7,730.79, +29.8301)</text>
<text x="114" y="78" textLength="37" lengthAdjust="spacingAndGlyphs" fill="#0000ff" stroke="#0000ff" stroke-width="0.1" font-size="10.0">FTSE 100</text>
<text x="114" y="110" textLength="66" lengthAdjust="spacingAndGlyphs" fill="#0000ff" stroke="#0000ff" stroke-width="0.1" font-size="10.0">CICLO PRIMARIO</text>
<text x="283" y="175" textLength="47" lengthAdjust="spacingAndGlyphs" fill="#0000ff" stroke="#0000ff" stroke-width="0.1" font-size="10.0">7565 (12/10)</text>
<text x="90" y="443" textLength="30" lengthAdjust="spacingAndGlyphs" fill="#0000ff" stroke="#0000ff" stroke-width="0.1" font-size="10.0">15 sept.</text>
<text x="177" y="390" textLength="28.6" lengthAdjust="spacingAndGlyphs" fill="#0000ff" stroke="#0000ff" stroke-width="0.1" font-size="10.0">26 sept</text>
<text x="408" y="296" textLength="39" lengthAdjust="spacingAndGlyphs" fill="#0000ff" stroke="#0000ff" stroke-width="0.1" font-size="10.0">26 octubre</text>
<text x="576" y="352" textLength="19.3" lengthAdjust="spacingAndGlyphs" fill="#0000ff" stroke="#0000ff" stroke-width="0.1" font-size="10.0">15/11</text>
<text x="728.5" y="403" textLength="28.5" lengthAdjust="spacingAndGlyphs" fill="#0000ff" stroke="#0000ff" stroke-width="0.1" font-size="10.0">6/12/17</text>
<text x="1007" y="28" textLength="33.5" lengthAdjust="spacingAndGlyphs" fill="#0000ff" stroke="#0000ff" stroke-width="0.1" font-size="10.0">16/01/18</text>
</svg>
</body></html>
